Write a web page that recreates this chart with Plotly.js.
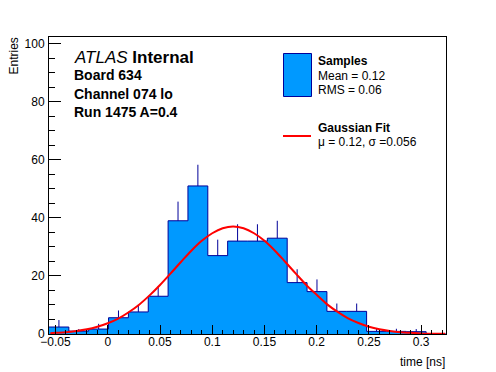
<!DOCTYPE html>
<html>
<head>
<meta charset="utf-8">
<script src="https://cdn.plot.ly/plotly-3.0.1.min.js"></script>
<style>html,body{margin:0;padding:0;background:#fff;}#chart{width:496px;height:372px;}</style>
</head>
<body>
<div id="chart"></div>
<script>
// Histogram bin edges (time [ns])
var binEdges = [-0.05625, -0.03725, -0.01825, 0.00075, 0.01975, 0.03875, 0.05775, 0.07675,
  0.09575, 0.11475, 0.13375, 0.15275, 0.17175, 0.19075, 0.20975, 0.22875, 0.24775,
  0.26675, 0.28575, 0.30475, 0.32375];
// Entries per bin
var counts = [2.4, 1.0, 1.7, 5.6, 7.6, 13, 39, 51, 27, 32, 32, 33, 17.7, 14.6, 7.8, 7.8, 0.9, 0.9, 0.8, 0];
// Upper error bars
var errUp = [2.4, 0.7, 1.8, 2.5, 2.5, 3.4, 6.6, 7.3, 5.5, 5.8, 5.8, 6.0, 4.6, 4.2, 2.7, 2.7, 0.9, 0.9, 0.9, 0];
// Gaussian fit curve
var fitX = [-0.055, -0.05, -0.04, -0.03, -0.02, -0.01, 0.00, 0.01, 0.02, 0.03, 0.04, 0.05, 0.06, 0.07,
  0.08, 0.09, 0.10, 0.11, 0.12, 0.13, 0.14, 0.15, 0.16, 0.17, 0.18, 0.19, 0.20, 0.21, 0.22, 0.23,
  0.24, 0.25, 0.26, 0.27, 0.28, 0.29, 0.30, 0.31, 0.32, 0.323];
var fitY = [0.3, 0.4, 0.6, 1.0, 1.6, 2.5, 3.7, 5.3, 7.5, 10.1, 13.3, 16.9, 20.8, 24.8,
  28.7, 32.1, 34.7, 36.4, 37.0, 36.4, 34.7, 32.1, 28.7, 24.8, 20.8, 16.9, 13.5, 10.2, 7.6, 5.4,
  3.8, 2.5, 1.6, 1.0, 0.6, 0.4, 0.2, 0.1, 0.07, 0.06];
var xTickVals = [-0.05, 0, 0.05, 0.1, 0.15, 0.2, 0.25, 0.3];
var xTickText = ['\u22120.05', '0', '0.05', '0.1', '0.15', '0.2', '0.25', '0.3'];
var yTickVals = [0, 20, 40, 60, 80, 100];

var W = 496, H = 372, L = 49, R = 50, T = 37, B = 38;
var pw = W - L - R, ph = H - T - B;
function px(x) { return (x - L) / pw; }
function py(y) { return (H - B - y) / ph; }

var FONT = 'Liberation Sans, Arial, Helvetica, sans-serif';
var fill = '#0099ff', edge = '#000099';

var centers = [];
for (var i = 0; i < counts.length; i++) centers.push((binEdges[i] + binEdges[i + 1]) / 2);
var stepY = counts.concat([counts[counts.length - 1]]);

var traces = [
  { type: 'scatter', mode: 'lines', x: binEdges, y: stepY, line: { shape: 'hv', color: edge, width: 1 },
    fill: 'tozeroy', fillcolor: fill, hoverinfo: 'skip', showlegend: false },
  { type: 'scatter', mode: 'markers', x: centers, y: counts, marker: { size: 1, color: 'rgba(0,0,0,0)' },
    error_y: { type: 'data', symmetric: false, array: errUp, arrayminus: counts.map(function () { return 0; }),
      width: 0, thickness: 1, color: edge }, hoverinfo: 'skip', showlegend: false },
  { type: 'scatter', mode: 'lines', x: fitX, y: fitY, line: { color: '#ff0000', width: 2, shape: 'spline' },
    hoverinfo: 'skip', showlegend: false }
];

function ann(text, x, baseline, size, extra) {
  var a = { text: text, xref: 'paper', yref: 'paper', x: px(x), y: py(baseline - 0.33 * size),
    xanchor: 'left', yanchor: 'middle', showarrow: false, borderpad: 0,
    font: { family: FONT, size: size, color: '#000' } };
  if (extra) for (var k in extra) a[k] = extra[k];
  return a;
}

var layout = {
  width: W, height: H,
  margin: { l: L, r: R, t: T, b: B, pad: 0 },
  paper_bgcolor: '#fff', plot_bgcolor: '#fff',
  showlegend: false,
  font: { family: FONT, size: 12, color: '#000' },
  xaxis: {
    range: [binEdges[0], binEdges[binEdges.length - 1]],
    tickmode: 'array', tickvals: xTickVals, ticktext: xTickText,
    ticks: 'inside', ticklen: 9, tickwidth: 1, tickcolor: '#000',
    minor: { ticks: 'inside', dtick: 0.01, tick0: 0, ticklen: 4.5, tickwidth: 1, tickcolor: '#000', showgrid: false },
    showline: true, linecolor: '#000', linewidth: 1, mirror: true,
    showgrid: false, zeroline: false, ticklabelstandoff: -3,
    tickfont: { family: FONT, size: 12, color: '#000' }
  },
  yaxis: {
    range: [0, 102.3],
    tickmode: 'array', tickvals: yTickVals,
    ticks: 'inside', ticklen: 12, tickwidth: 1, tickcolor: '#000',
    minor: { ticks: 'inside', dtick: 5, tick0: 0, ticklen: 6, tickwidth: 1, tickcolor: '#000', showgrid: false },
    showline: true, linecolor: '#000', linewidth: 1, mirror: true,
    showgrid: false, zeroline: false, ticklabelstandoff: 1,
    tickfont: { family: FONT, size: 12, color: '#000' }
  },
  shapes: [
    { type: 'rect', xref: 'paper', yref: 'paper', x0: px(283.5), x1: px(311.5), y0: py(96.5), y1: py(53.5),
      fillcolor: fill, line: { color: edge, width: 1 } },
    { type: 'line', xref: 'paper', yref: 'paper', x0: px(283), x1: px(311), y0: py(136), y1: py(136),
      line: { color: '#ff0000', width: 2 } }
  ],
  annotations: [
    ann('<i>ATLAS</i> <b>Internal</b>', 73, 63, 17),
    ann('<b>Board 634</b>', 73, 80, 14),
    ann('<b>Channel 074 lo</b>', 73, 99, 14),
    ann('<b>Run 1475 A=0.4</b>', 73, 117, 14),
    ann('<b>Samples</b>', 317, 65, 12),
    ann('Mean = 0.12', 317, 79.5, 12),
    ann('RMS = 0.06', 317, 93.5, 12),
    ann('<b>Gaussian Fit</b>', 317, 132, 12),
    ann('\u03bc = 0.12, \u03c3 =0.056', 317, 146, 12),
    { text: 'time [ns]', xref: 'paper', yref: 'paper', x: 1, y: py(362), xanchor: 'right', yanchor: 'middle',
      showarrow: false, borderpad: 0, font: { family: FONT, size: 12, color: '#000' } },
    { text: 'Entries', xref: 'paper', yref: 'paper', x: px(13), y: 1, xanchor: 'center', yanchor: 'top',
      textangle: -90, showarrow: false, borderpad: 0, font: { family: FONT, size: 12, color: '#000' } }
  ]
};

Plotly.newPlot('chart', traces, layout, { staticPlot: true, displayModeBar: false });
</script>
</body>
</html>
